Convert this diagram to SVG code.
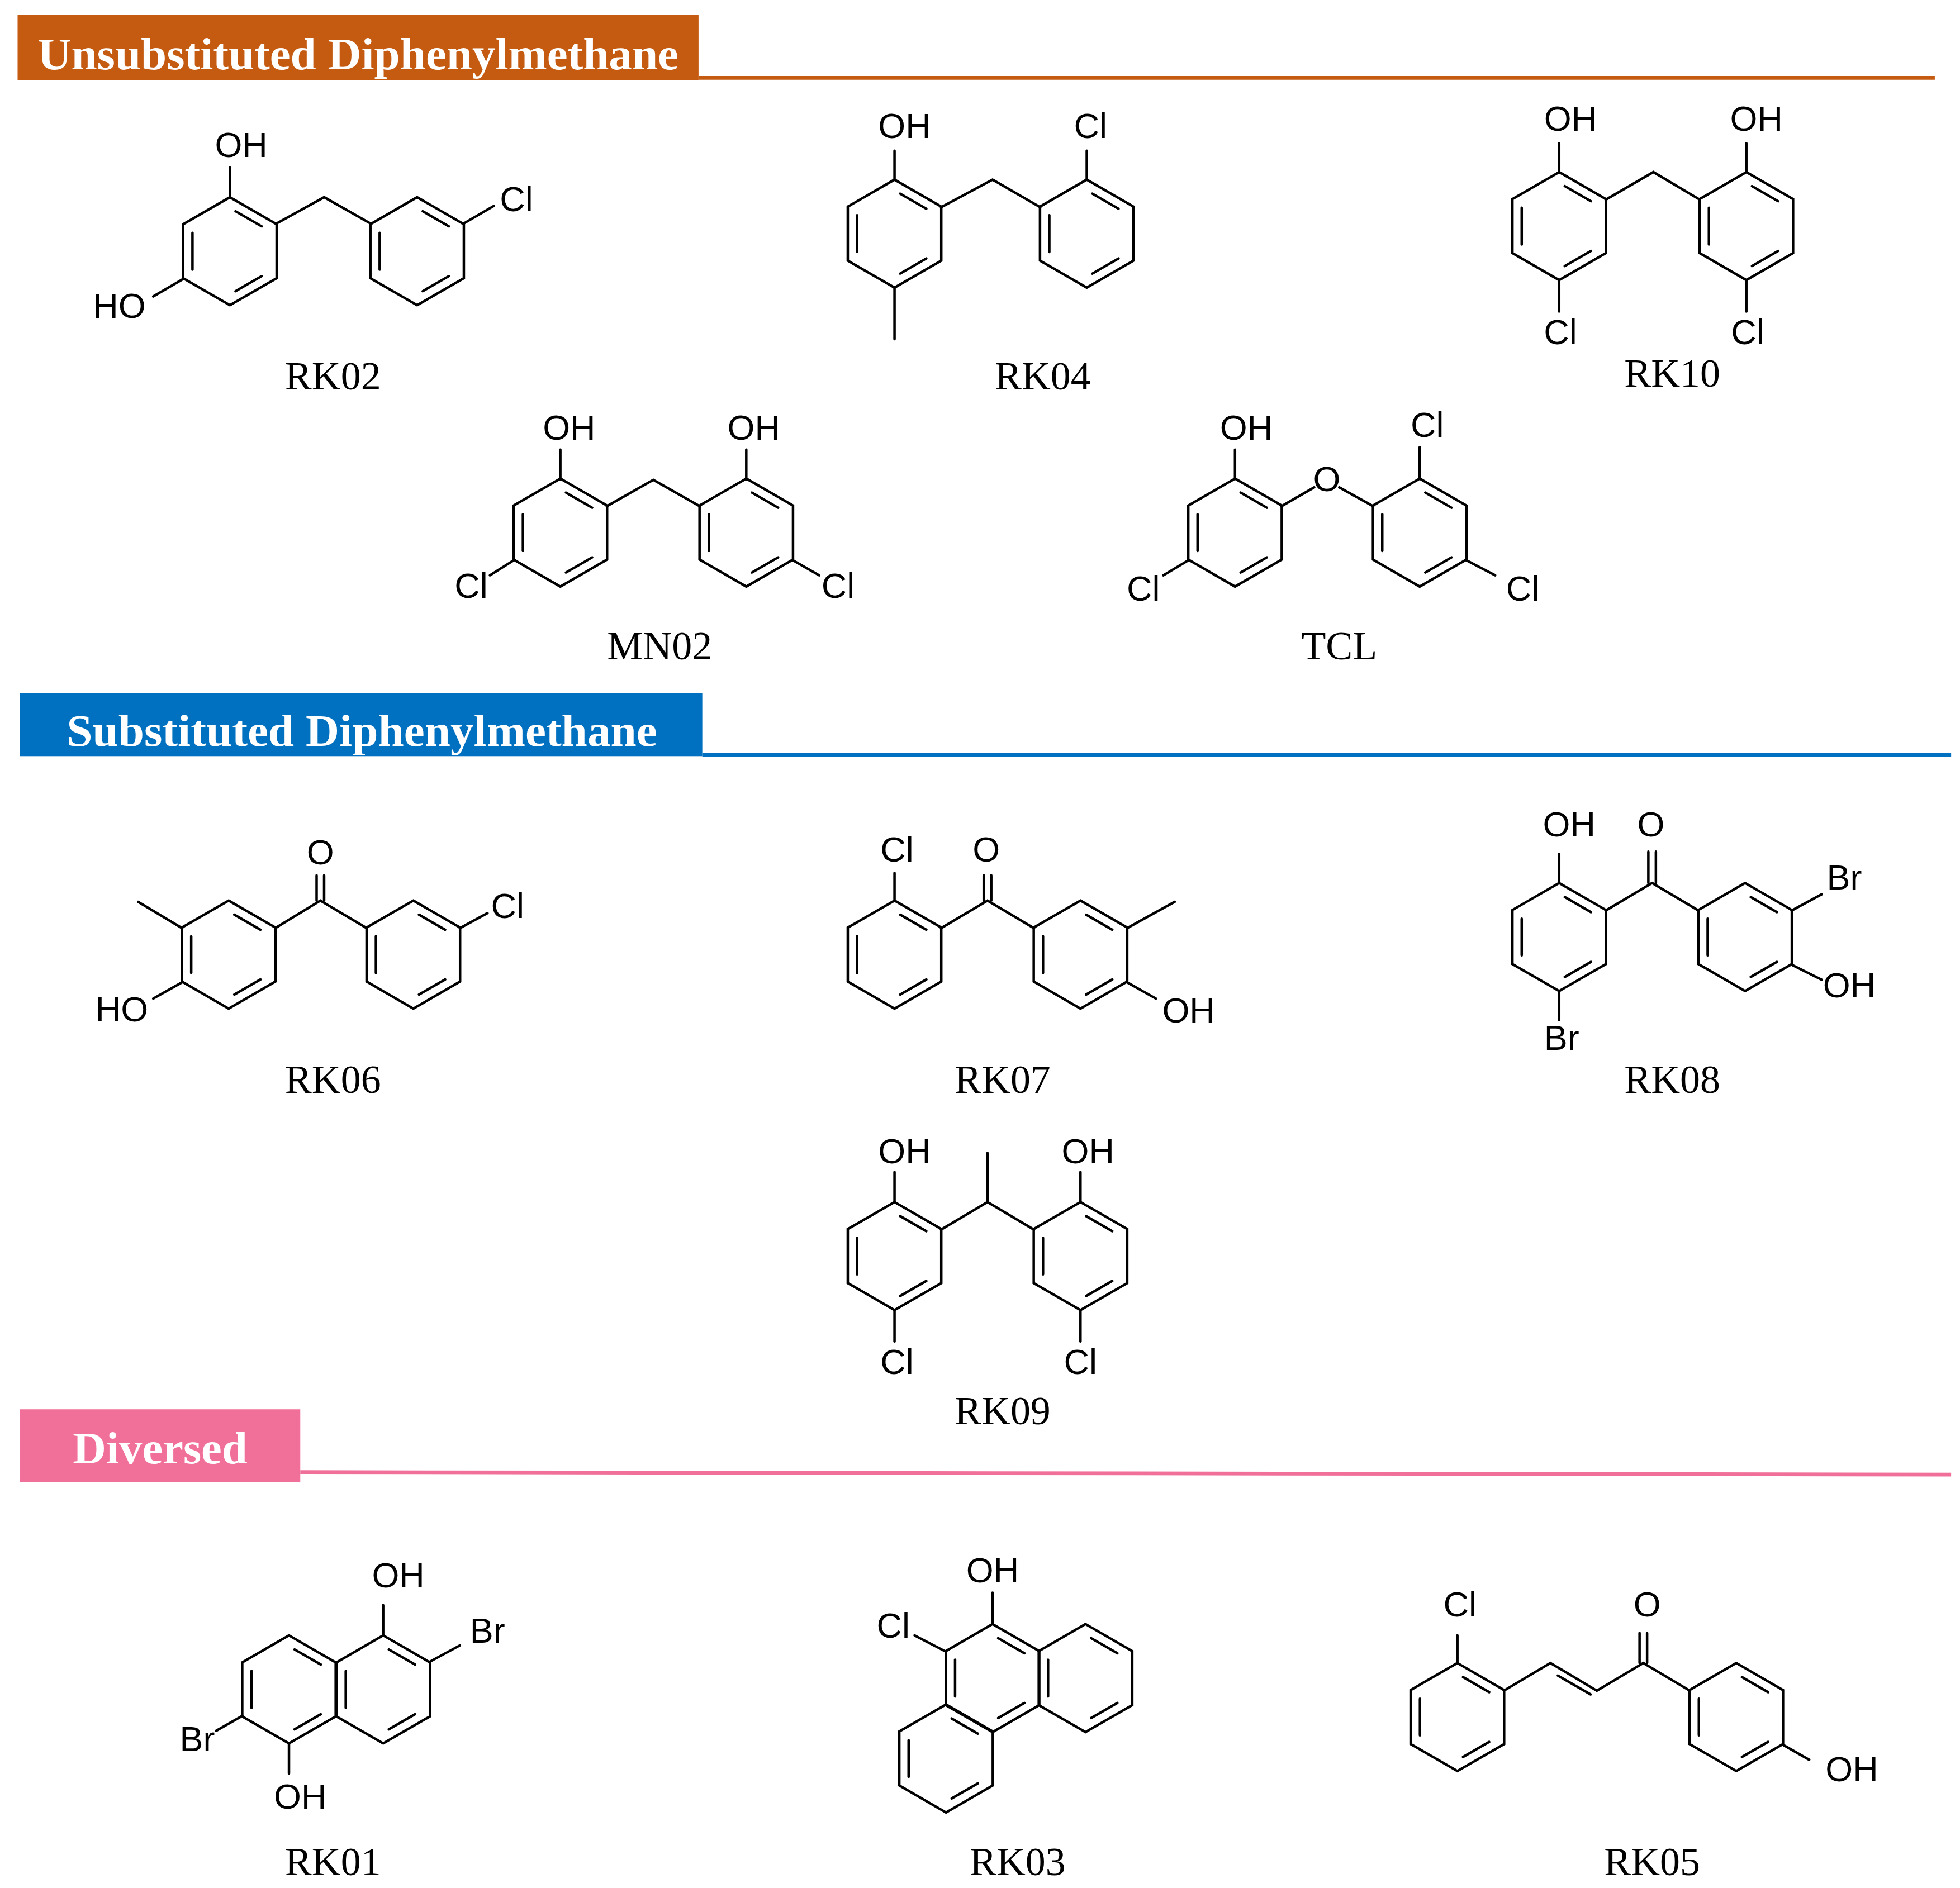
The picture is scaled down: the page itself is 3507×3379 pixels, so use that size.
<svg xmlns="http://www.w3.org/2000/svg" xmlns:xlink="http://www.w3.org/1999/xlink" width="3507" height="3379" viewBox="0 0 3507 3379">
<style>
.b{stroke:#000;stroke-width:2;fill:none;stroke-linecap:round}
.a{font-family:"Liberation Sans",Arial,sans-serif;font-size:28px;text-anchor:middle;fill:#000}
.n{font-family:"Liberation Serif","Times New Roman",serif;font-size:32px;text-anchor:middle;fill:#000}
.h{font-family:"Liberation Serif","Times New Roman",serif;font-size:36px;font-weight:bold;fill:#fff}
</style>
<defs>
<g id="ring" class="b">
<polygon points="0,-43 37.2,-21.5 37.2,21.5 0,43 -37.2,21.5 -37.2,-21.5"/>
<path d="M4.5,-31.8L25.3,-19.8M25.3,19.8L4.5,31.8M-29.8,14.6L-29.8,-14.6"/>
</g>
</defs>
<rect width="3507" height="3379" fill="#fff"/>
<g transform="scale(2.248)">
<g id="headers">
<rect x="14" y="12" width="542" height="52" fill="#C55A11"/>
<text class="h" x="30" y="55" textLength="510" lengthAdjust="spacingAndGlyphs">Unsubstituted Diphenylmethane</text>
<line x1="556" y1="62" x2="1540" y2="62" stroke="#C55A11" stroke-width="3"/>
<rect x="16" y="552" width="543" height="50" fill="#0070C0"/>
<text class="h" x="53" y="594" textLength="470" lengthAdjust="spacingAndGlyphs">Substituted Diphenylmethane</text>
<line x1="559" y1="601" x2="1553" y2="601" stroke="#0070C0" stroke-width="3"/>
<rect x="16" y="1122" width="223" height="58" fill="#F0709A"/>
<text class="h" x="58" y="1165" textLength="139" lengthAdjust="spacingAndGlyphs">Diversed</text>
<line x1="239" y1="1172" x2="1553" y2="1174" stroke="#F0709A" stroke-width="3"/>
</g>
<g id="connectors" class="b">
<path d="M183,157V133M220,178L258,157L295,178M369,178L393,164M146,222L122,236"/>
<path d="M712,143V120M749,165L790,143L828,165M865,143V120M712,229V270"/>
<path d="M1241,137V114M1278,159L1316,137L1353,159M1390,137V114M1241,223V248M1390,223V248"/>
<path d="M446,382V358M483,403L520,382L557,403M594,382V358M409,446L390,458M631,446L652,458"/>
<path d="M983,381V358M1020,403L1046,388M1066,388L1093,403M1130,381V356M946,446L926,458M1167,446L1190,458"/>
<path d="M219,739L255,717L292,739M252,717V697M258,717V697M366,739L388,727M145,739L110,718M145,782L122,795"/>
<path d="M712,717V695M749,739L786,717L823,739M783,717V697M789,717V697M897,739L935,718M897,782L920,795"/>
<path d="M1241,703V680M1278,725L1315,703L1352,725M1312,703V678M1318,703V678M1426,725L1450,712M1426,768L1450,780M1241,789V812"/>
<path d="M712,957V933M749,979L786,957L823,979M786,957V918M860,957V933M712,1043V1068M860,1043V1068"/>
<path d="M305,1302V1278M342,1323L366,1310M193,1366L172,1378M230,1388V1412"/>
<path d="M790,1293V1268M753,1315L728,1302"/>
<path d="M1160,1324V1302M1197,1346L1234,1324L1271,1346L1308,1324L1345,1346M1240,1334L1266,1349M1305,1324V1300M1311,1324V1300M1419,1389L1440,1401"/>
</g>
<g id="RK02"><use xlink:href="#ring" x="183" y="200"/><use xlink:href="#ring" x="332" y="200"/>
<text class="a" x="192" y="125">OH</text><text class="a" x="411" y="168">Cl</text><text class="a" x="95" y="253">HO</text><text class="n" x="265" y="310">RK02</text></g>
<g id="RK04"><use xlink:href="#ring" x="712" y="186"/><use xlink:href="#ring" x="865" y="186"/>
<text class="a" x="720" y="110">OH</text><text class="a" x="868" y="110">Cl</text><text class="n" x="830" y="310">RK04</text></g>
<g id="RK10"><use xlink:href="#ring" x="1241" y="180"/><use xlink:href="#ring" x="1390" y="180"/>
<text class="a" x="1250" y="104">OH</text><text class="a" x="1398" y="104">OH</text><text class="a" x="1242" y="274">Cl</text><text class="a" x="1391" y="274">Cl</text><text class="n" x="1331" y="308">RK10</text></g>
<g id="MN02"><use xlink:href="#ring" x="446" y="424"/><use xlink:href="#ring" x="594" y="424"/>
<text class="a" x="453" y="350">OH</text><text class="a" x="600" y="350">OH</text><text class="a" x="375" y="476">Cl</text><text class="a" x="667" y="476">Cl</text><text class="n" x="525" y="525">MN02</text></g>
<g id="TCL"><use xlink:href="#ring" x="983" y="424"/><use xlink:href="#ring" x="1130" y="424"/>
<text class="a" x="992" y="350">OH</text><text class="a" x="1056" y="391">O</text><text class="a" x="1136" y="348">Cl</text><text class="a" x="910" y="478">Cl</text><text class="a" x="1212" y="478">Cl</text><text class="n" x="1066" y="525">TCL</text></g>
<g id="RK06"><use xlink:href="#ring" x="182" y="760"/><use xlink:href="#ring" x="329" y="760"/>
<text class="a" x="255" y="688">O</text><text class="a" x="404" y="731">Cl</text><text class="a" x="97" y="813">HO</text><text class="n" x="265" y="870">RK06</text></g>
<g id="RK07"><use xlink:href="#ring" x="712" y="760"/><use xlink:href="#ring" x="860" y="760"/>
<text class="a" x="714" y="686">Cl</text><text class="a" x="785" y="686">O</text><text class="a" x="946" y="814">OH</text><text class="n" x="798" y="870">RK07</text></g>
<g id="RK08"><use xlink:href="#ring" x="1241" y="746"/><use xlink:href="#ring" x="1389" y="746"/>
<text class="a" x="1249" y="666">OH</text><text class="a" x="1314" y="666">O</text><text class="a" x="1468" y="708">Br</text><text class="a" x="1472" y="794">OH</text><text class="a" x="1243" y="836">Br</text><text class="n" x="1331" y="870">RK08</text></g>
<g id="RK09"><use xlink:href="#ring" x="712" y="1000"/><use xlink:href="#ring" x="860" y="1000"/>
<text class="a" x="720" y="926">OH</text><text class="a" x="866" y="926">OH</text><text class="a" x="714" y="1094">Cl</text><text class="a" x="860" y="1094">Cl</text><text class="n" x="798" y="1134">RK09</text></g>
<g id="RK01"><use xlink:href="#ring" x="230" y="1345"/><use xlink:href="#ring" x="305" y="1345"/>
<text class="a" x="317" y="1264">OH</text><text class="a" x="388" y="1308">Br</text><text class="a" x="157" y="1394">Br</text><text class="a" x="239" y="1440">OH</text><text class="n" x="265" y="1493">RK01</text></g>
<g id="RK03"><use xlink:href="#ring" x="790" y="1336"/><use xlink:href="#ring" x="864" y="1336"/><use xlink:href="#ring" x="753" y="1400"/>
<text class="a" x="790" y="1260">OH</text><text class="a" x="711" y="1304">Cl</text><text class="n" x="810" y="1493">RK03</text></g>
<g id="RK05"><use xlink:href="#ring" x="1160" y="1367"/><use xlink:href="#ring" x="1382" y="1367"/>
<text class="a" x="1162" y="1287">Cl</text><text class="a" x="1311" y="1287">O</text><text class="a" x="1474" y="1418">OH</text><text class="n" x="1315" y="1493">RK05</text></g>
</g>
</svg>
